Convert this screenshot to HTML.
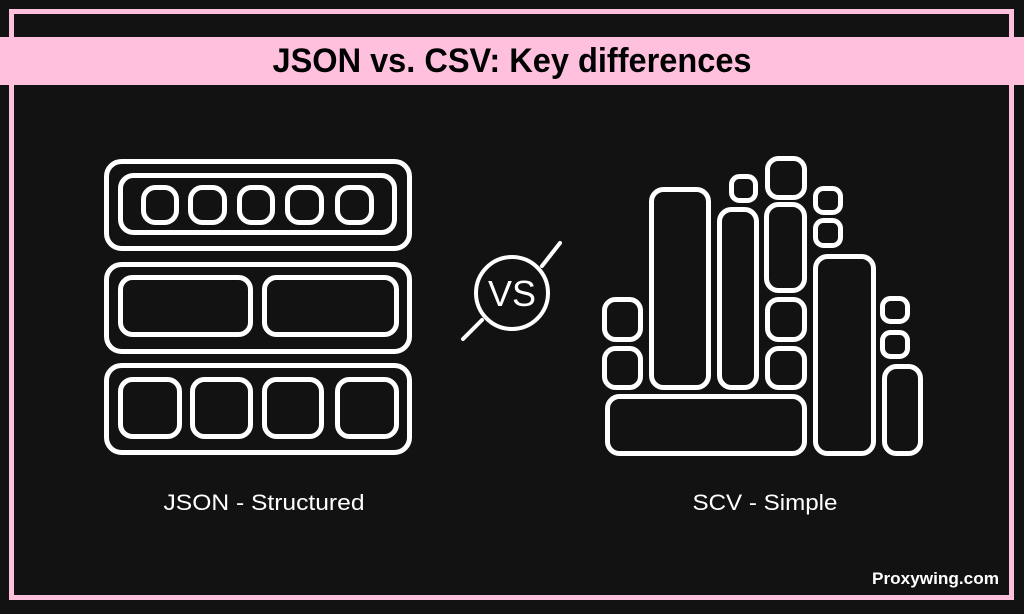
<!DOCTYPE html>
<html><head><meta charset="utf-8"><style>
html,body{margin:0;padding:0;background:#121212;}
svg{display:block;}
</style></head><body>
<svg width="1024" height="614" viewBox="0 0 1024 614" xmlns="http://www.w3.org/2000/svg">
<rect width="1024" height="614" fill="#121212"/>
<rect x="11.5" y="11.5" width="1000" height="586" fill="none" stroke="#ffc0de" stroke-width="5"/>
<rect x="0" y="37" width="1024" height="48" fill="#ffc0de"/>
<text x="512" y="72" text-anchor="middle" font-family="Liberation Sans Narrow, Liberation Sans, sans-serif" font-weight="bold" font-size="34" textLength="479" lengthAdjust="spacingAndGlyphs" fill="#000">JSON vs. CSV: Key differences</text>

<g fill="none" stroke="#fff" stroke-width="5">
  <rect x="106.5" y="161.5" width="303" height="87" rx="15"/>
  <rect x="106.5" y="264.5" width="303" height="87" rx="15"/>
  <rect x="106.5" y="365.5" width="303" height="87" rx="15"/>
  <rect x="120.5" y="175.5" width="274" height="57" rx="13"/>
  <rect x="143.5" y="187.5" width="33" height="35" rx="12"/>
  <rect x="190.5" y="187.5" width="34" height="35" rx="12"/>
  <rect x="239.5" y="187.5" width="33" height="35" rx="12"/>
  <rect x="287.5" y="187.5" width="34" height="35" rx="12"/>
  <rect x="337.5" y="187.5" width="34" height="35" rx="12"/>
  <rect x="120.5" y="277.5" width="130" height="57" rx="12"/>
  <rect x="264.5" y="277.5" width="132" height="57" rx="12"/>
  <rect x="120.5" y="379.5" width="59" height="57" rx="12"/>
  <rect x="192.5" y="379.5" width="58" height="57" rx="12"/>
  <rect x="264.5" y="379.5" width="57" height="57" rx="12"/>
  <rect x="337.5" y="379.5" width="59" height="57" rx="12"/>
  <rect x="604.5" y="299.5" width="36" height="40" rx="11"/>
  <rect x="604.5" y="348.5" width="36" height="39" rx="11"/>
  <rect x="651.5" y="189.5" width="57" height="198" rx="12"/>
  <rect x="719.5" y="209.5" width="37" height="178" rx="12"/>
  <rect x="731.5" y="176.5" width="24" height="24" rx="8"/>
  <rect x="767.5" y="158.5" width="37" height="39" rx="11"/>
  <rect x="766.5" y="204.5" width="38" height="86" rx="12"/>
  <rect x="767.5" y="299.5" width="37" height="40" rx="11"/>
  <rect x="767.5" y="348.5" width="37" height="39" rx="11"/>
  <rect x="815.5" y="188.5" width="25" height="24" rx="8"/>
  <rect x="815.5" y="220.5" width="25" height="25" rx="8"/>
  <rect x="815.5" y="256.5" width="58" height="197" rx="12"/>
  <rect x="607.5" y="396.5" width="197" height="57" rx="12"/>
  <rect x="882.5" y="298.5" width="25" height="23" rx="8"/>
  <rect x="882.5" y="332.5" width="25" height="24" rx="8"/>
  <rect x="884.5" y="366.5" width="36" height="87" rx="12"/>
</g>
<g stroke="#fff" stroke-width="4" fill="none" stroke-linecap="round">
  <circle cx="512" cy="293" r="36"/>
  <line x1="463" y1="339" x2="482" y2="320"/>
  <line x1="542" y1="266" x2="560" y2="243"/>
</g>
<text x="512" y="306" text-anchor="middle" font-family="Liberation Sans, sans-serif" font-size="36" fill="#fff">VS</text>

<text x="264" y="510" text-anchor="middle" font-family="Liberation Sans Narrow, Liberation Sans, sans-serif" font-size="22" textLength="201" lengthAdjust="spacingAndGlyphs" fill="#fff">JSON - Structured</text>
<text x="765" y="510" text-anchor="middle" font-family="Liberation Sans Narrow, Liberation Sans, sans-serif" font-size="22" textLength="145" lengthAdjust="spacingAndGlyphs" fill="#fff">SCV - Simple</text>
<text x="999" y="584" text-anchor="end" font-family="Liberation Sans Narrow, Liberation Sans, sans-serif" font-weight="bold" font-size="17" textLength="127" lengthAdjust="spacingAndGlyphs" fill="#fff">Proxywing.com</text>
</svg>
</body></html>
